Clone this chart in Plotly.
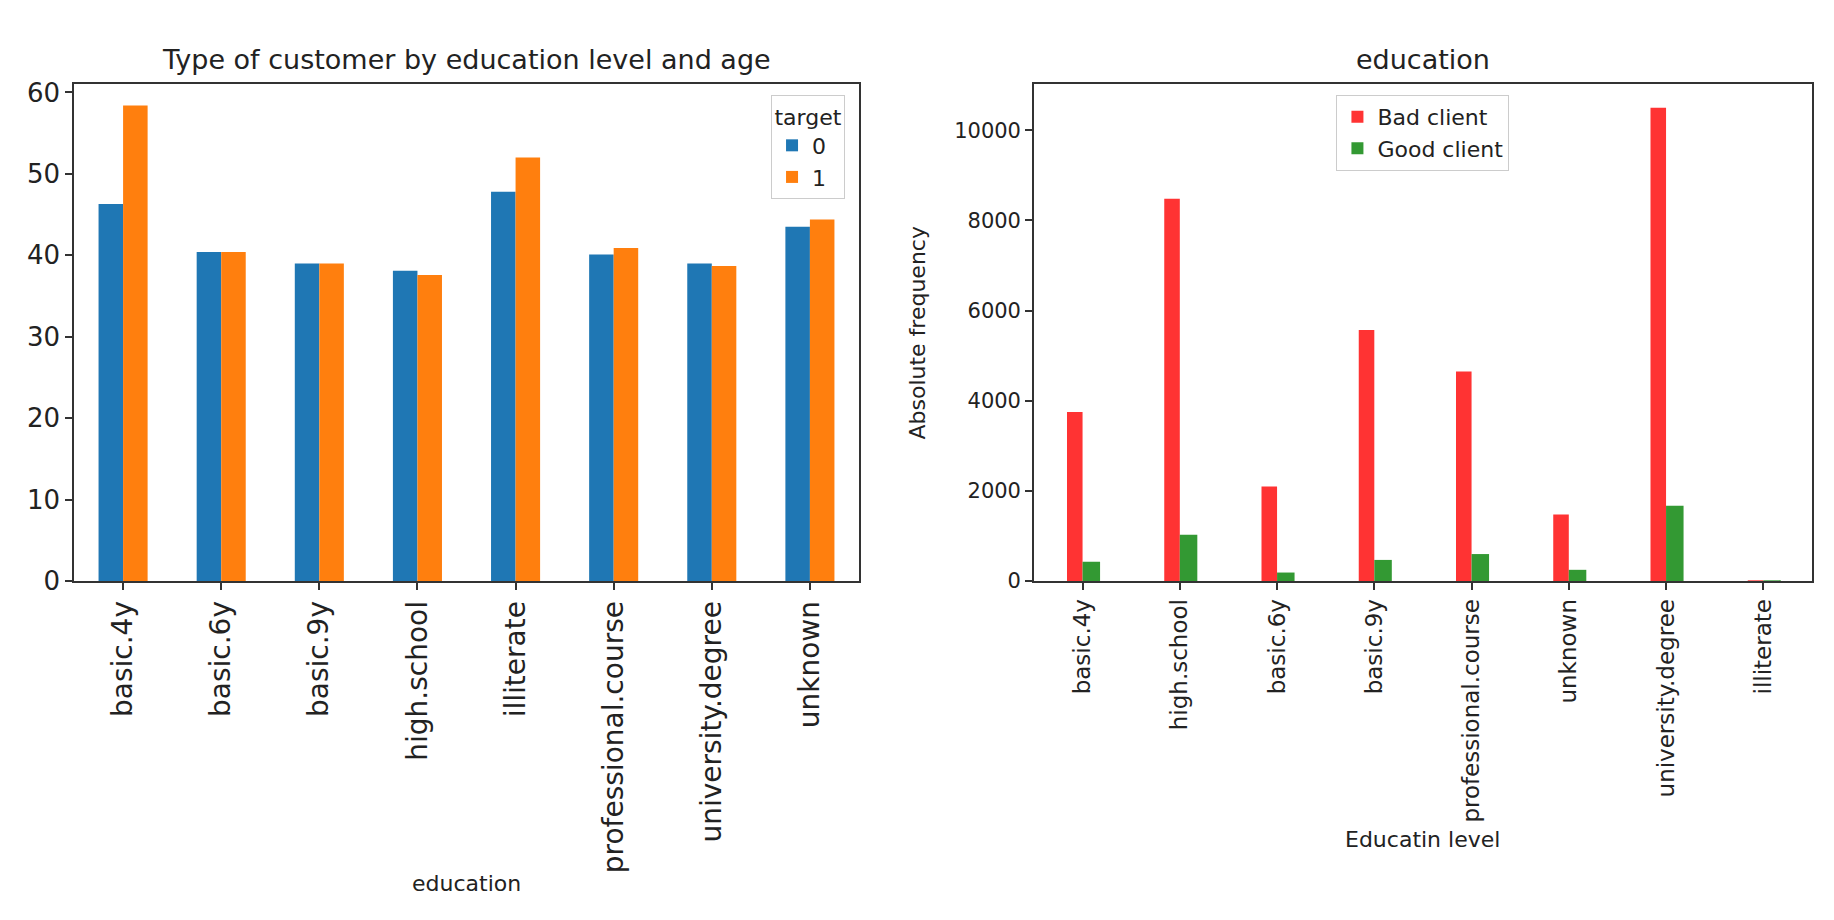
import plotly.graph_objects as go

# ── data ──
edu_age = ["basic.4y", "basic.6y", "basic.9y", "high.school",
           "illiterate", "professional.course", "university.degree", "unknown"]
age_target0 = [46.3, 40.4, 39.0, 38.1, 47.8, 40.1, 39.0, 43.5]
age_target1 = [58.4, 40.4, 39.0, 37.6, 52.0, 40.9, 38.7, 44.4]

edu_freq = ["basic.4y", "high.school", "basic.6y", "basic.9y",
            "professional.course", "unknown", "university.degree", "illiterate"]
bad_client = [3750, 8480, 2100, 5570, 4650, 1480, 10500, 14]
good_client = [430, 1030, 190, 470, 600, 250, 1670, 4]

FONT = "DejaVu Sans"
INK = "#222222"

fig = go.Figure()

# left: mean age per education level and target
fig.add_trace(go.Bar(x=edu_age, y=age_target0, name="0", marker_color="#1f77b4",
                     width=0.25, offset=-0.25, xaxis="x", yaxis="y", legend="legend"))
fig.add_trace(go.Bar(x=edu_age, y=age_target1, name="1", marker_color="#ff7f0e",
                     width=0.25, offset=0.0, xaxis="x", yaxis="y", legend="legend"))

# right: absolute frequency of bad / good clients
fig.add_trace(go.Bar(x=edu_freq, y=bad_client, name="Bad client", marker_color="#ff3333",
                     width=0.16, offset=-0.16, xaxis="x2", yaxis="y2", legend="legend2"))
fig.add_trace(go.Bar(x=edu_freq, y=good_client, name="Good client", marker_color="#339933",
                     width=0.18, offset=0.0, xaxis="x2", yaxis="y2", legend="legend2"))

fig.update_traces(marker_line_width=0)

axis_common = dict(showline=True, mirror=True, linecolor="#333333", linewidth=1.5,
                   ticks="outside", ticklen=7, tickwidth=1.5, tickcolor="#333333",
                   showgrid=False, zeroline=False)

def label(text, x, y, size, angle=0):
    return dict(text=text, x=x, y=y, xref="paper", yref="paper", showarrow=False,
                xanchor="center", yanchor="middle", textangle=angle,
                font=dict(size=size))

fig.update_layout(
    width=1834, height=920,
    margin=dict(l=0, r=0, t=0, b=0),
    paper_bgcolor="white", plot_bgcolor="white",
    font=dict(family=FONT, color=INK),
    barmode="overlay",
    xaxis=dict(domain=[0.036, 0.464], anchor="y", type="category", range=[-0.5, 7.5],
               tickangle=-90, tickfont=dict(size=28), **axis_common),
    yaxis=dict(domain=[0.3696, 0.9228], anchor="x", range=[0, 61.0], dtick=10,
               tickfont=dict(size=26), **axis_common),
    xaxis2=dict(domain=[0.5594, 0.9836], anchor="y2", type="category", range=[-0.5, 7.5],
                tickangle=-90, tickfont=dict(size=23), **axis_common),
    yaxis2=dict(domain=[0.3696, 0.9228], anchor="x2", range=[0, 11020], dtick=2000,
                tickformat="d", tickfont=dict(size=21), **axis_common),
    legend=dict(x=0.4564, y=0.911, xanchor="right", yanchor="top",
                title=dict(text="target", side="top center", font=dict(size=22)),
                font=dict(size=22), bordercolor="#cccccc", borderwidth=1,
                bgcolor="rgba(255,255,255,0.8)"),
    legend2=dict(x=0.7715, y=0.911, xanchor="center", yanchor="top",
                 font=dict(size=22), bordercolor="#cccccc", borderwidth=1,
                 bgcolor="rgba(255,255,255,0.8)"),
    annotations=[
        label("Type of customer by education level and age", 0.25, 0.951, 27),
        label("education", 0.7715, 0.951, 27),
        label("education", 0.25, 0.033, 22),
        label("Educatin level", 0.7715, 0.0815, 22),
        label("Absolute frequency", 0.496, 0.646, 22, angle=-90),
    ],
)

fig.write_html("out.html")
